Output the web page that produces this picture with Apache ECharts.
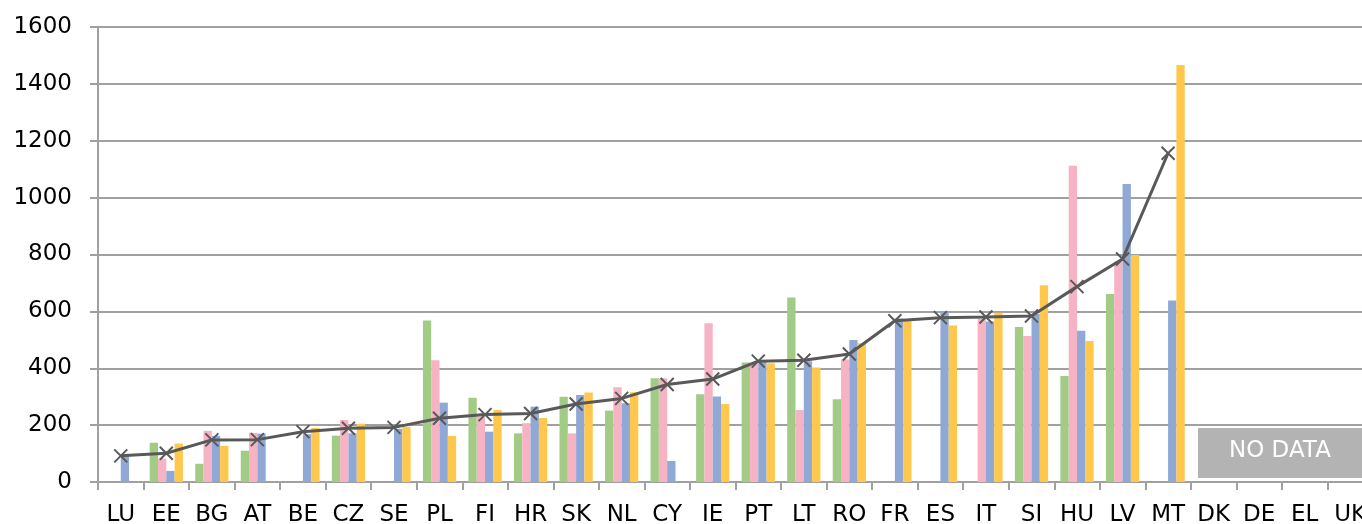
<!DOCTYPE html>
<html>
<head>
<meta charset="utf-8">
<script src="https://cdn.jsdelivr.net/npm/echarts@6/dist/echarts.min.js"></script>
<style>
  html, body { margin: 0; padding: 0; background: #fff; overflow: hidden; }
  #chart { width: 1362px; height: 524px; }
</style>
</head>
<body>
<div id="chart"></div>
<script>
// categories (countries)
const countries = ['LU', 'EE', 'BG', 'AT', 'BE', 'CZ', 'SE', 'PL', 'FI', 'HR', 'SK', 'NL', 'CY', 'IE',
  'PT', 'LT', 'RO', 'FR', 'ES', 'IT', 'SI', 'HU', 'LV', 'MT', 'DK', 'DE', 'EL', 'UK']

// bar series (null = no bar)
const greenVals  = [null, 138, 64, 110, null, 163, null, 568, 296, 171, 300, 251, 365, 309,
  420, 649, 291, null, null, null, 545, 373, 661, null, null, null, null, null]
const pinkVals   = [null, 82, 180, 173, null, 218, null, 428, 230, 207, 171, 333, 365, 558,
  418, 253, 431, null, null, 574, 513, 1112, 775, null, null, null, null, null]
const blueVals   = [92, 39, 162, 170, 168, 171, 187, 279, 177, 265, 306, 277, 74, 301,
  422, 425, 499, 575, 599, 564, 591, 532, 1048, 638, null, null, null, null]
const yellowVals = [null, 135, 127, null, 190, 205, 194, 162, 253, 225, 315, 316, null, 274,
  418, 403, 488, 567, 550, 595, 692, 496, 798, 1466, null, null, null, null]

// line series (x markers)
const lineVals = [92, 101, 148, 149, 177, 189, 192, 224, 237, 241, 274, 294, 343, 362,
  425, 428, 450, 567, 578, 580, 584, 687, 784, 1156, null, null, null, null]

// y axis
const yMin = 0
const yMax = 1600
const yStep = 200

const font = 'DejaVu Sans'

let mycharts = echarts.init(document.getElementById('chart'))

function bar(data, color) {
  return {
    type: 'bar',
    data: data,
    barGap: '0%',
    barCategoryGap: '27%',
    itemStyle: { color: color },
    silent: true,
  }
}

mycharts.setOption({
  animation: false,
  // plot runs a little past the right edge (UK is cut off in the original)
  grid: { left: 98, width: 1275, top: 27, height: 455, outerBoundsMode: 'none' },
  xAxis: {
    type: 'category',
    data: countries,
    axisLine: { lineStyle: { color: '#a0a0a0', width: 2 } },
    axisTick: { show: true, length: 8, lineStyle: { color: '#a0a0a0', width: 2 } },
    axisLabel: { color: '#000', fontFamily: font, fontSize: 23, margin: 22, interval: 0 },
  },
  yAxis: {
    type: 'value',
    min: yMin,
    max: yMax,
    interval: yStep,
    axisLine: { show: true, lineStyle: { color: '#a0a0a0', width: 2 } },
    axisTick: { show: true, length: 8, lineStyle: { color: '#a0a0a0', width: 2 } },
    axisLabel: {
      color: '#000', fontFamily: font, fontSize: 23, margin: 26,
      formatter: (v) => String(v),
    },
    splitLine: { lineStyle: { color: '#a0a0a0', width: 2 } },
  },
  series: [
    bar(greenVals, '#a2cb86'),
    bar(pinkVals, '#f5b3c4'),
    bar(blueVals, '#8fa8d5'),
    bar(yellowVals, '#ffc84c'),
    {
      type: 'line',
      data: lineVals,
      symbol: 'path://M0,0L10,10M10,0L0,10',
      symbolSize: 13,
      showAllSymbol: true,
      lineStyle: { color: '#595959', width: 3 },
      itemStyle: { color: 'none', borderColor: '#595959', borderWidth: 2 },
      z: 5,
    },
  ],
  graphic: [
    {
      type: 'rect',
      left: 1198,
      top: 428,
      shape: { width: 170, height: 50 },
      style: { fill: '#b3b3b3' },
    },
    {
      type: 'text',
      left: 1229,
      top: 440,
      style: { text: 'NO DATA', fill: '#fff', font: '23px "DejaVu Sans"' },
    },
  ],
})
</script>
</body>
</html>
